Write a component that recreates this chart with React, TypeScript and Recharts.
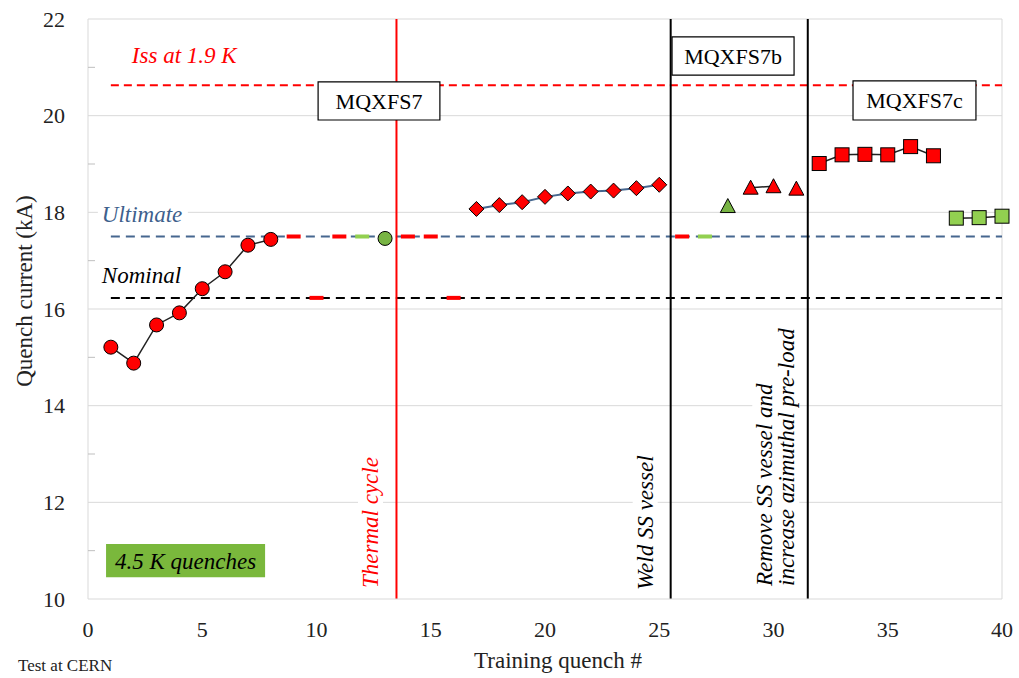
import React from 'react';
import { CartesianGrid, ComposedChart, Line, ReferenceArea, ReferenceLine, XAxis, YAxis } from 'recharts';

const FONT = '"Liberation Serif", "Times New Roman", serif';

// training quench # and quench current (kA)
const redCircleQ = [1, 2, 3, 4, 5, 6, 7, 8];
const redCircleI = [15.21, 14.88, 15.67, 15.92, 16.42, 16.77, 17.32, 17.44];
const greenCircleQ = [13];
const greenCircleI = [17.46];
const diamondQ = [17, 18, 19, 20, 21, 22, 23, 24, 25];
const diamondI = [18.07, 18.15, 18.21, 18.32, 18.39, 18.43, 18.45, 18.5, 18.57];
const greenTriQ = [28];
const greenTriI = [18.13];
const redTriQ = [29, 30];
const redTriI = [18.51, 18.54];
const lastTriQ = [31];
const lastTriI = [18.49];
const redSquareQ = [32, 33, 34, 35, 36, 37];
const redSquareI = [19.01, 19.19, 19.2, 19.19, 19.36, 19.17];
const greenSquareQ = [38, 39, 40];
const greenSquareI = [17.88, 17.89, 17.92];

// quenches drawn as short dashes
const redDashQ = [9, 10, 11, 14, 15, 16, 26];
const redDashI = [17.5, 16.23, 17.5, 17.5, 17.5, 16.23, 17.5];
const greenDashQ = [12, 27];
const greenDashI = [17.5, 17.5];

// levels
const ISS = 20.63;
const ULTIMATE = 17.5;
const NOMINAL = 16.23;
const LEVEL_FROM = 1;
const LEVEL_TO = 40;

// events
const THERMAL_CYCLE = 13.5;
const WELD = 25.5;
const REMOVE = 31.5;

const xTicks = [0, 5, 10, 15, 20, 25, 30, 35, 40];
const yTicks = [10, 11, 12, 13, 14, 15, 16, 17, 18, 19, 20, 21, 22];
const yGrid = [12, 14, 16, 18, 20, 22];

const RED = '#FF0000';
const GREEN = '#92D050';
const DARK_GREEN = '#78B444';
const BLUE = '#46678F';
const NOTE_SIZE = 23;

const pts = (q: number[], v: number[]) => q.map((x, k) => ({ x, y: v[k] }));

const circleDot = (fill: string) => (p: any) => (
  <circle key={`c-${p.index}`} cx={p.cx} cy={p.cy} r={7} fill={fill} stroke="#000" strokeWidth={1} />
);
const diamondDot = (fill: string) => (p: any) => (
  <polygon
    key={`d-${p.index}`}
    points={`${p.cx},${p.cy - 7.5} ${p.cx + 7.5},${p.cy} ${p.cx},${p.cy + 7.5} ${p.cx - 7.5},${p.cy}`}
    fill={fill}
    stroke="#000"
    strokeWidth={1}
  />
);
const triangleDot = (fill: string) => (p: any) => (
  <polygon
    key={`t-${p.index}`}
    points={`${p.cx},${p.cy - 7.5} ${p.cx + 7.5},${p.cy + 6.5} ${p.cx - 7.5},${p.cy + 6.5}`}
    fill={fill}
    stroke="#000"
    strokeWidth={1}
  />
);
const squareDot = (fill: string) => (p: any) => (
  <rect key={`s-${p.index}`} x={p.cx - 7} y={p.cy - 7} width={14} height={14} fill={fill} stroke="#000" strokeWidth={1} />
);
const dashDot = (fill: string) => (p: any) => (
  <rect key={`m-${p.index}`} x={p.cx - 7} y={p.cy - 2} width={14} height={4} fill={fill} />
);

const levelLabel = (text: string, color: string, dx: number, dy: number, bg?: number) => (p: any) => {
  const x = p.viewBox.x + dx;
  const y = p.viewBox.y + dy;
  return (
    <g>
      {bg ? <rect x={x - 4} y={y - 19} width={bg} height={25} fill="#fff" /> : null}
      <text x={x} y={y} fill={color} fontSize={NOTE_SIZE} fontStyle="italic" fontFamily={FONT}>
        {text}
      </text>
    </g>
  );
};

const sideLabel = (lines: string[], color: string, offsets: number[], lift: number, len: number) => (p: any) => {
  const vb = p.viewBox;
  const y = vb.y + vb.height - lift;
  const x0 = vb.x + offsets[0];
  return (
    <g>
      <rect
        x={x0 - 20}
        y={y - len - 2}
        width={offsets[offsets.length - 1] - offsets[0] + 25}
        height={len + 6}
        fill="#fff"
      />
      {lines.map((t, k) => {
        const x = vb.x + offsets[k];
        return (
          <text
            key={t}
            x={x}
            y={y}
            transform={`rotate(-90 ${x} ${y})`}
            fill={color}
            fontSize={NOTE_SIZE}
            fontStyle="italic"
            fontFamily={FONT}
          >
            {t}
          </text>
        );
      })}
    </g>
  );
};

const YTick = (p: any) => {
  const v = p.payload.value;
  if (v % 2 === 1) {
    return <line x1={p.x + 23} x2={p.x + 30} y1={p.y} y2={p.y} stroke="#bfbfbf" strokeWidth={1} />;
  }
  return (
    <text x={p.x} y={p.y} dy={7.5} textAnchor="end" fill="#222" fontSize={22} fontFamily={FONT}>
      {v}
    </text>
  );
};

const yTitle = (p: any) => {
  const vb = p.viewBox ?? { x: 28, y: 19, width: 60, height: 580 };
  const x = vb.x + 4;
  const y = vb.y + vb.height / 2 - 18;
  return (
    <text x={x} y={y} transform={`rotate(-90 ${x} ${y})`} textAnchor="middle" fill="#222" fontSize={23} fontFamily={FONT}>
      Quench current (kA)
    </text>
  );
};

const xTitle = (p: any) => {
  const vb = p.viewBox ?? { x: 88, y: 599, width: 914, height: 79 };
  return (
    <g>
      <text x={vb.x + 470} y={vb.y + 69} textAnchor="middle" fill="#222" fontSize={23} fontFamily={FONT}>
        Training quench #
      </text>
      <text x={vb.x - 70} y={vb.y + 72} fill="#222" fontSize={17} fontFamily={FONT}>
        Test at CERN
      </text>
    </g>
  );
};

const boxLabel = (text: string, italic?: boolean) => ({
  value: text,
  position: 'center' as const,
  fill: '#000',
  fontSize: italic ? 23 : 22,
  fontFamily: FONT,
  fontStyle: italic ? 'italic' : 'normal',
});

const App: React.FC = () => {
  return (
    <div style={{ position: 'absolute', left: 0, top: 0, width: 1019, height: 678, background: '#fff' }}>
      <ComposedChart width={1019} height={678} margin={{ top: 19, right: 17, bottom: 0, left: 28 }}>
        <CartesianGrid vertical={false} horizontalValues={yGrid} stroke="#d9d9d9" />
        <XAxis
          type="number"
          dataKey="x"
          domain={[0, 40]}
          ticks={xTicks}
          height={79}
          tickLine={false}
          tickSize={0}
          tickMargin={22}
          axisLine={{ stroke: '#d9d9d9' }}
          tick={{ fontSize: 22, fill: '#222', fontFamily: FONT }}
          label={xTitle}
        />
        <YAxis
          type="number"
          domain={[10, 22]}
          ticks={yTicks}
          interval={0}
          width={60}
          tickLine={false}
          tickSize={0}
          tickMargin={23}
          axisLine={{ stroke: '#d9d9d9' }}
          tick={<YTick />}
          label={yTitle}
        />
        <ReferenceLine x={40} stroke="#d9d9d9" />

        <ReferenceLine
          segment={[{ x: LEVEL_FROM, y: ISS }, { x: LEVEL_TO, y: ISS }]}
          stroke={RED}
          strokeWidth={2}
          strokeDasharray="8 5"
          label={levelLabel('Iss at 1.9 K', RED, 21, -22)}
        />
        <ReferenceLine
          segment={[{ x: LEVEL_FROM, y: ULTIMATE }, { x: LEVEL_TO, y: ULTIMATE }]}
          stroke={BLUE}
          strokeWidth={2}
          strokeDasharray="9 6"
          label={levelLabel('Ultimate', '#3E5F8C', -9, -15, 90)}
        />
        <ReferenceLine
          segment={[{ x: LEVEL_FROM, y: NOMINAL }, { x: LEVEL_TO, y: NOMINAL }]}
          stroke="#000"
          strokeWidth={2}
          strokeDasharray="9 6"
          label={levelLabel('Nominal', '#000', -9, -15)}
        />

        <ReferenceLine
          x={THERMAL_CYCLE}
          stroke={RED}
          strokeWidth={2}
          label={sideLabel(['Thermal cycle'], RED, [-18.5], 11, 131)}
        />
        <ReferenceLine x={WELD} stroke="#000" strokeWidth={2} label={sideLabel(['Weld SS vessel'], '#000', [-18], 9, 137)} />
        <ReferenceLine
          x={REMOVE}
          stroke="#000"
          strokeWidth={2}
          label={sideLabel(['Remove SS vessel and', 'increase azimuthal pre-load'], '#000', [-35.5, -13.5], 13, 264)}
        />

        <ReferenceArea zIndex={450} x1={10.07} x2={15.4} y1={19.91} y2={20.7} fill="#fff" fillOpacity={1} stroke="#000" strokeWidth={1.2} label={boxLabel('MQXFS7')} />
        <ReferenceArea zIndex={450} x1={25.56} x2={30.9} y1={20.84} y2={21.63} fill="#fff" fillOpacity={1} stroke="#000" strokeWidth={1.2} label={boxLabel('MQXFS7b')} />
        <ReferenceArea zIndex={450} x1={33.48} x2={38.86} y1={19.91} y2={20.72} fill="#fff" fillOpacity={1} stroke="#000" strokeWidth={1.2} label={boxLabel('MQXFS7c')} />
        <ReferenceArea zIndex={450} x1={0.79} x2={7.75} y1={10.45} y2={11.14} fill="#7AB83C" fillOpacity={1} stroke="none" label={boxLabel('4.5 K quenches', true)} />

        <Line data={pts(redDashQ, redDashI)} dataKey="y" stroke="none" dot={dashDot(RED)} activeDot={false} isAnimationActive={false} />
        <Line data={pts(greenDashQ, greenDashI)} dataKey="y" stroke="none" dot={dashDot(GREEN)} activeDot={false} isAnimationActive={false} />
        <Line data={pts(redCircleQ, redCircleI)} dataKey="y" stroke="#222" strokeWidth={1.5} dot={circleDot(RED)} activeDot={false} isAnimationActive={false} />
        <Line data={pts(greenCircleQ, greenCircleI)} dataKey="y" stroke="#222" dot={circleDot(DARK_GREEN)} activeDot={false} isAnimationActive={false} />
        <Line data={pts(diamondQ, diamondI)} dataKey="y" stroke={BLUE} strokeWidth={2} dot={diamondDot(RED)} activeDot={false} isAnimationActive={false} />
        <Line data={pts(greenTriQ, greenTriI)} dataKey="y" stroke="#222" dot={triangleDot(DARK_GREEN)} activeDot={false} isAnimationActive={false} />
        <Line data={pts(redTriQ, redTriI)} dataKey="y" stroke="#222" strokeWidth={1.5} dot={triangleDot(RED)} activeDot={false} isAnimationActive={false} />
        <Line data={pts(lastTriQ, lastTriI)} dataKey="y" stroke="#222" dot={triangleDot(RED)} activeDot={false} isAnimationActive={false} />
        <Line data={pts(redSquareQ, redSquareI)} dataKey="y" stroke="#222" strokeWidth={1.5} dot={squareDot(RED)} activeDot={false} isAnimationActive={false} />
        <Line data={pts(greenSquareQ, greenSquareI)} dataKey="y" stroke="#222" strokeWidth={1.5} dot={squareDot(GREEN)} activeDot={false} isAnimationActive={false} />
      </ComposedChart>
    </div>
  );
};

export default App;
